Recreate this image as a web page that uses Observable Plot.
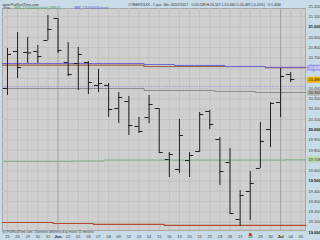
<!DOCTYPE html>
<html><head><meta charset="utf-8">
<script src="https://cdn.jsdelivr.net/npm/d3@7"></script>
<script src="https://cdn.jsdelivr.net/npm/@observablehq/plot@0.6"></script>
<style>html,body{margin:0;padding:0;background:#c9dbe6;overflow:hidden}</style>
</head><body><div id="chart"></div>
<script>
// Daily OHLC bars (bar index = trading day)
const days = ["25","26","29","30","31","Jun","02","05","06","07","08","09","12","13","14","15","16","19","20","21","22","23","26","27","28","29","30","Jul","04","05"];
const open  = [20.402,20.762,20.752,20.762,20.869,21.083,20.655,20.645,20.655,20.431,20.431,20.207,20.275,20.032,20.119,20.207,19.710,19.613,19.700,19.788,20.178,19.905,19.681,19.126,19.399,19.623,20.002,20.265,20.538];
const high  = [20.791,20.947,20.898,20.820,21.112,21.083,20.849,20.801,20.664,20.587,20.450,20.363,20.324,20.119,20.333,20.207,19.778,20.100,19.778,20.168,20.187,19.924,19.817,19.408,19.593,20.071,20.265,20.596,20.557];
const low   = [20.333,20.499,20.645,20.645,20.869,20.742,20.518,20.382,20.343,20.363,20.119,20.061,19.944,19.963,20.061,19.778,19.535,19.574,19.535,19.778,20.002,19.457,19.184,19.058,19.116,19.623,19.827,20.119,20.460];
const close = [20.733,20.606,20.748,20.713,20.976,20.772,20.538,20.733,20.460,20.450,20.197,20.314,20.041,19.983,20.246,19.778,19.759,19.944,19.749,20.148,20.051,19.593,19.184,19.360,19.477,19.886,20.256,20.518,20.489];

// Indicator lines (one value per day slot)
const blueMA  = [20.645,20.645,20.645,20.645,20.645,20.645,20.645,20.645,20.645,20.645,20.645,20.645,20.645,20.645,20.635,20.635,20.635,20.626,20.626,20.626,20.626,20.626,20.616,20.616,20.616,20.616,20.608,20.608,20.608,20.608];
const brownMA = [20.630,20.630,20.630,20.630,20.630,20.630,20.630,20.630,20.630,20.630,20.630,20.630,20.630,20.630,20.616,20.616,20.616,20.616,20.616,20.616,20.616,20.616,20.616,20.616,20.616,20.616,20.604,20.604,20.604,20.604];
const greyLine = [20.402,20.402,20.402,20.402,20.402,20.402,20.402,20.402,20.402,20.402,20.402,20.402,20.402,20.402,20.382,20.382,20.382,20.382,20.382,20.382,20.382,20.373,20.373,20.373,20.373,20.363,20.363,20.363,20.363,20.363];
const greenLine = [19.691,19.691,19.691,19.691,19.691,19.691,19.691,19.695,19.695,19.695,19.705,19.705,19.705,19.705,19.705,19.705,19.705,19.705,19.705,19.705,19.705,19.705,19.705,19.705,19.705,19.705,19.705,19.705,19.708,19.708];
const redLine = [19.097,19.097,19.097,19.097,19.097,19.087,19.087,19.087,19.087,19.078,19.078,19.078,19.078,19.078,19.078,19.078,19.068,19.068,19.068,19.068,19.068,19.068,19.068,19.068,19.068,19.068,19.068,19.068,19.068,19.068];
const dottedLevel = 20.421;

const yTicks = [21.2,21.1,21.0,20.9,20.8,20.7,20.6,20.5,20.4,20.3,20.2,20.1,20.0,19.9,19.8,19.7,19.6,19.5,19.4,19.3,19.2,19.1,19.0];
const boldTicks = [21.0,20.5,20.0,19.5,19.0];
const monthSlots = [5, 27];
const signalSlot = [24];

const bars = open.map((o,i)=>({i, o, h:high[i], l:low[i], c:close[i]}));
const slots = days.map((d,i)=>i);
const stepData = arr => arr.map((v,i)=>({x:i-0.5, y:v})).concat([{x:arr.length-0.5, y:arr[arr.length-1]}]);
const fmt = d3.format(".3f");
const isBold = v => boldTicks.some(b => Math.abs(b-v) < 1e-6);
const font = "Liberation Sans, DejaVu Sans, sans-serif";

const lastClose = close[close.length-1];
const hiLabels = [
  {v: blueMA[blueMA.length-1], bg:"#9a9ae6", fg:"#ffffff"},
  {v: lastClose, bg:"#f0b400", fg:"#222"},
  {v: greyLine[greyLine.length-1], bg:"#b4b4b4", fg:"#333"},
  {v: greenLine[greenLine.length-1], bg:"#b9d9ae", fg:"#333"}
];

const chart = Plot.plot({
  width: 320, height: 240,
  marginTop: 8, marginRight: 15, marginBottom: 10, marginLeft: 2,
  x: {domain: [-0.49, 29.46], axis: null},
  y: {domain: [19.019, 21.1805], axis: null},
  style: {background: "#c9dbe6", fontFamily: font, overflow: "visible"},
  marks: [
    Plot.frame({fill: "#cfcfcf", stroke: "#a8a8a8"}),
    Plot.ruleY(yTicks.filter(v => v < 21.18 && v > 19.02), {stroke: "#c2c2c2", strokeWidth: 1}),
    Plot.ruleX(slots, {stroke: d => monthSlots.includes(d) ? "#a2a2a2" : "#c2c2c2", strokeWidth: 1}),
    // indicator lines
    Plot.ruleY([dottedLevel], {stroke: "#9d9df2", strokeDasharray: "1.5,1.2", strokeWidth: 1}),
    Plot.line(stepData(redLine), {x:"x", y:"y", curve:"step-after", stroke:"#b0502e", strokeWidth:1.2}),
    Plot.line(stepData(greenLine), {x:"x", y:"y", curve:"step-after", stroke:"#7db48b", strokeWidth:1}),
    Plot.line(stepData(greyLine), {x:"x", y:"y", curve:"step-after", stroke:"#8a8a8a", strokeWidth:1}),
    Plot.line(stepData(brownMA), {x:"x", y:"y", curve:"step-after", stroke:"#9a6440", strokeWidth:1.2}),
    Plot.line(stepData(blueMA), {x:"x", y:"y", curve:"step-after", stroke:"#6f64d8", strokeWidth:1}),
    // OHLC bars
    Plot.ruleX(bars, {x:"i", y1:"l", y2:"h", stroke:"#1e1e1e", strokeWidth:1}),
    Plot.ruleY(bars, {y:"o", x1: d => d.i - 0.4, x2: "i", stroke:"#1e1e1e", strokeWidth:1}),
    Plot.ruleY(bars, {y:"c", x1: "i", x2: d => d.i + 0.4, stroke:"#1e1e1e", strokeWidth:1}),
    // right price axis
    Plot.text(yTicks.filter(v => !isBold(v)), {y: d=>d, text: d=>fmt(d), frameAnchor:"right", dx:3, textAnchor:"start", fontSize:4, fill:"#3a3a3a"}),
    Plot.text(yTicks.filter(isBold), {y: d=>d, text: d=>fmt(d), frameAnchor:"right", dx:3, textAnchor:"start", fontSize:4, fontWeight:"bold", fill:"#111"}),
    Plot.text(hiLabels, {y:"v", text: d=>fmt(d.v), frameAnchor:"right", dx:3, textAnchor:"start", fontSize:4, fill: d=>d.fg, stroke: d=>d.bg, strokeWidth:3.2, strokeLinejoin:"miter", paintOrder:"stroke"}),
    // bottom date axis
    Plot.text(slots.filter(i => !monthSlots.includes(i)), {x: d=>d, text: d=>days[d], frameAnchor:"bottom", dy:7, fontSize:4, fill:"#3a3a3a"}),
    Plot.text(monthSlots, {x: d=>d, text: d=>days[d], frameAnchor:"bottom", dy:7, fontSize:4, fontWeight:"bold", fill:"#111"}),
    Plot.dot(signalSlot, {x: d=>d, frameAnchor:"bottom", dy:4, symbol:"square", r:1.4, fill:"#e01010"}),
    // header and caption texts
    Plot.text(["www.ProRealTime.com"], {frameAnchor:"top-left", dx:0, dy:-5.5, textAnchor:"start", fontSize:3.5, fill:"#333"}),
    Plot.text(["CYBERXXXX - 1 jour  Mer 05/07/2017   O:20.538 H:20.557 L:20.460 C:20.489 (-0.24%)   V:1.44M"], {frameAnchor:"top-left", dx:126, dy:-5.5, textAnchor:"start", fontSize:3.5, fill:"#333"}),
    Plot.text(["Prix"], {frameAnchor:"top-left", dx:1, dy:-2, textAnchor:"start", fontSize:3.5, fill:"#333"}),
    Plot.text(["MM_17000000(close)_MM(?)"], {frameAnchor:"top-left", dx:12, dy:-2, textAnchor:"start", fontSize:3.5, fill:"#4c9a5c"}),
    Plot.text(["MM_17000000(close)"], {frameAnchor:"top-left", dx:72, dy:-2, textAnchor:"start", fontSize:3.5, fill:"#5555cc"}),
    Plot.text(["(c) ProRealTime.com - Données différées d'au moins 15 minutes"], {frameAnchor:"bottom-left", dx:0, dy:2.5, textAnchor:"start", fontSize:3.2, fill:"#444"})
  ]
});
document.getElementById("chart").appendChild(chart);
</script>
</body></html>
